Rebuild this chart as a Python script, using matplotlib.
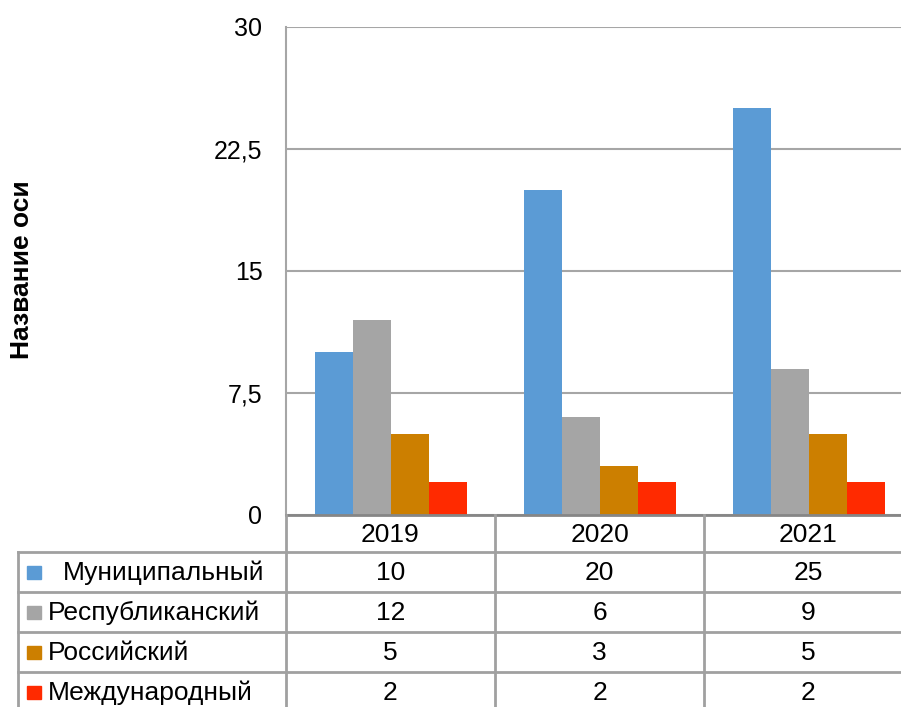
import numpy as np
import matplotlib.pyplot as plt

plt.rcParams['font.family'] = ['Liberation Sans', 'DejaVu Sans']

years = ["2019", "2020", "2021"]
series = ["Муниципальный", "Республиканский", "Российский", "Международный"]
values = [
    [10, 20, 25],
    [12, 6, 9],
    [5, 3, 5],
    [2, 2, 2],
]
colors = ["#5B9BD5", "#A5A5A5", "#CC7F00", "#FF2A00"]
yticks = [0, 7.5, 15, 22.5, 30]
ylabel = "Название оси"

W, H = 901, 707
fig = plt.figure(figsize=(W / 100, H / 100), dpi=100)

# plot area in pixels
px_left, px_right, px_top, px_bottom = 286, 913, 27, 515
ax = fig.add_axes([px_left / W, 1 - px_bottom / H,
                   (px_right - px_left) / W, (px_bottom - px_top) / H])

n = len(series)
bar_w = 1 / (n + 1.5)
x = np.arange(len(years))
for i, (name, vals, c) in enumerate(zip(series, values, colors)):
    ax.bar(x + (i - (n - 1) / 2) * bar_w, vals, bar_w, color=c, zorder=3)

ax.set_xlim(-0.5, len(years) - 0.5)
ax.set_ylim(0, 30)
ax.set_yticks(yticks)
ax.set_yticklabels([f"{t:g}".replace(".", ",") for t in yticks], fontsize=18)
ax.tick_params(axis='y', length=0, pad=17)
ax.set_xticks([])
ax.grid(axis='y', color='#A6A6A6', linewidth=1.5, zorder=0)
for s in ['top', 'right']:
    ax.spines[s].set_visible(False)
ax.spines['left'].set_color('#A6A6A6')
ax.spines['left'].set_linewidth(1.5)
ax.spines['bottom'].set_color('#868686')
ax.spines['bottom'].set_linewidth(2)
ax.spines['bottom'].set_zorder(4)

fig.text(22 / W, 1 - 270 / H, ylabel, rotation=90, fontsize=19,
         fontweight='bold', ha='center', va='center')

# data table underneath, in pixel coordinates
tab = fig.add_axes([0, 0, 1, 1])
tab.set_xlim(0, W)
tab.set_ylim(H, 0)
tab.axis('off')

col_w = 209
col_edges = [px_left + k * col_w for k in range(len(years) + 1)]
row_edges = [515, 552, 592, 632, 672, 712]
tab_left = 18
lc = '#A0A0A0'
lw = 2
fs = 19

for xe in col_edges:
    tab.plot([xe, xe], [row_edges[0], row_edges[-1]], color=lc, lw=lw)
tab.plot([tab_left, tab_left], [row_edges[1], row_edges[-1]], color=lc, lw=lw)
for ye in row_edges[1:]:
    tab.plot([tab_left, W], [ye, ye], color=lc, lw=lw)

for k, yr in enumerate(years):
    cx = px_left + (k + 0.5) * col_w
    tab.text(cx, (row_edges[0] + row_edges[1]) / 2 + 1, yr, fontsize=fs,
             ha='center', va='center')

for r, (name, vals, c) in enumerate(zip(series, values, colors)):
    cy = (row_edges[r + 1] + row_edges[r + 2]) / 2
    tab.add_patch(plt.Rectangle((27, cy - 6), 14, 13, color=c))
    label_x = 63 if r == 0 else 48
    tab.text(label_x, cy + 1, name, fontsize=fs, ha='left', va='center')
    for k, v in enumerate(vals):
        cx = px_left + (k + 0.5) * col_w
        tab.text(cx, cy + 1, str(v), fontsize=fs, ha='center', va='center')

fig.savefig("out.png", dpi=100)
